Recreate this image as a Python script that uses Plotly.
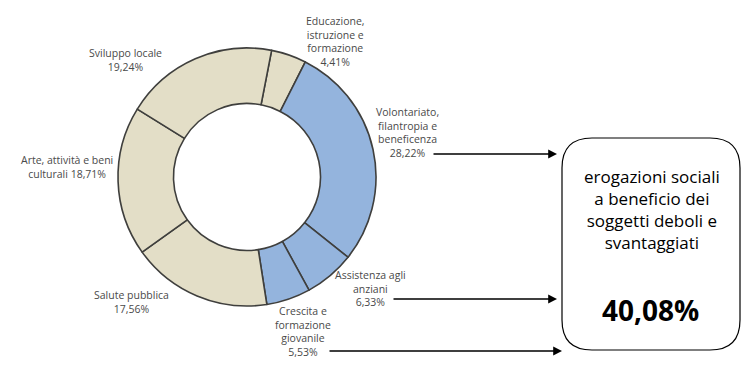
import plotly.graph_objects as go

# Ripartizione delle erogazioni per settore (valori in %)
settori = [
    "Educazione,<br>istruzione e<br>formazione",
    "Volontariato,<br>filantropia e<br>beneficenza",
    "Assistenza agli<br>anziani",
    "Crescita e<br>formazione<br>giovanile",
    "Salute pubblica",
    "Arte, attività e beni<br>culturali",
    "Sviluppo locale",
]
quote = [4.41, 28.22, 6.33, 5.53, 17.56, 18.71, 19.24]
# settori rivolti ai soggetti deboli e svantaggiati
sociali = [False, True, True, True, False, False, False]

BEIGE = "#E3DEC7"
BLU = "#94B4DD"
colori = [BLU if s else BEIGE for s in sociali]


def pct(v):
    return f"{v:.2f}".replace(".", ",") + "%"


W, H = 743, 366
fig = go.Figure()

# ciambella centrata in (247,177) px, raggio 129 px
cx, cy, r = 247, 177, 129
fig.add_trace(go.Pie(
    values=quote,
    labels=[s.replace("<br>", " ") for s in settori],
    sort=False,
    direction="clockwise",
    rotation=11,
    hole=0.57,
    marker=dict(colors=colori, line=dict(color="#3f3f3d", width=1.6)),
    textinfo="none",
    hoverinfo="label+percent",
    showlegend=False,
    domain=dict(x=[(cx - r) / W, (cx + r) / W],
                y=[(H - cy - r) / H, (H - cy + r) / H]),
))

# assi invisibili in pixel per etichette, frecce e riquadro
fig.update_layout(
    width=W, height=H,
    margin=dict(l=0, r=0, t=0, b=0),
    paper_bgcolor="white", plot_bgcolor="rgba(0,0,0,0)",
    xaxis=dict(range=[0, W], visible=False, fixedrange=True),
    yaxis=dict(range=[H, 0], visible=False, fixedrange=True),
)

FONT_LAB = dict(family="Open Sans, sans-serif", size=10.5, color="#4a4a4a")

# posizioni (centro del blocco di testo) delle etichette dei settori
pos_etichette = [(335, 41), (407, 132), (370, 288), (303, 331), (131, 302), (67, 167), (125, 60)]
testi = []
for i, (s, v) in enumerate(zip(settori, quote)):
    if i == 5:
        t = "Arte, attività e beni<br>culturali " + pct(v)
    else:
        t = s + "<br>" + pct(v)
    testi.append(t)

for t, (x, y) in zip(testi, pos_etichette):
    fig.add_annotation(x=x, y=y, text=t, showarrow=False, font=FONT_LAB,
                       align="center", xanchor="center", yanchor="middle")

# frecce dai settori sociali verso il riquadro
frecce = [(432, 154, 557), (392, 299, 557), (328, 351, 562)]
for x0, y0, x1 in frecce:
    fig.add_annotation(x=x1, y=y0, ax=x0, ay=y0, xref="x", yref="y", axref="x", ayref="y",
                       text="", showarrow=True, arrowhead=2, arrowsize=1.1,
                       arrowwidth=1.6, arrowcolor="black")

# riquadro con angoli arrotondati
x0, x1, y0, y1, rc = 562, 740, 138, 350, 30
path = (f"M {x0+rc},{y0} L {x1-rc},{y0} Q {x1},{y0} {x1},{y0+rc} "
        f"L {x1},{y1-rc} Q {x1},{y1} {x1-rc},{y1} "
        f"L {x0+rc},{y1} Q {x0},{y1} {x0},{y1-rc} "
        f"L {x0},{y0+rc} Q {x0},{y0} {x0+rc},{y0} Z")
fig.add_shape(type="path", path=path, xref="x", yref="y",
              line=dict(color="black", width=1.2), fillcolor="white")

totale_sociale = sum(v for v, s in zip(quote, sociali) if s)
fig.add_annotation(x=652, y=209, showarrow=False,
                   text="erogazioni sociali<br>a beneficio dei<br>soggetti deboli e<br>svantaggiati",
                   font=dict(family="Open Sans, sans-serif", size=17, color="black"),
                   align="center", xanchor="center", yanchor="middle")
fig.add_annotation(x=650, y=310, showarrow=False, text="<b>" + pct(totale_sociale) + "</b>",
                   font=dict(family="Open Sans, sans-serif", size=28, color="black"),
                   xanchor="center", yanchor="middle")

fig.write_html("out.html")
